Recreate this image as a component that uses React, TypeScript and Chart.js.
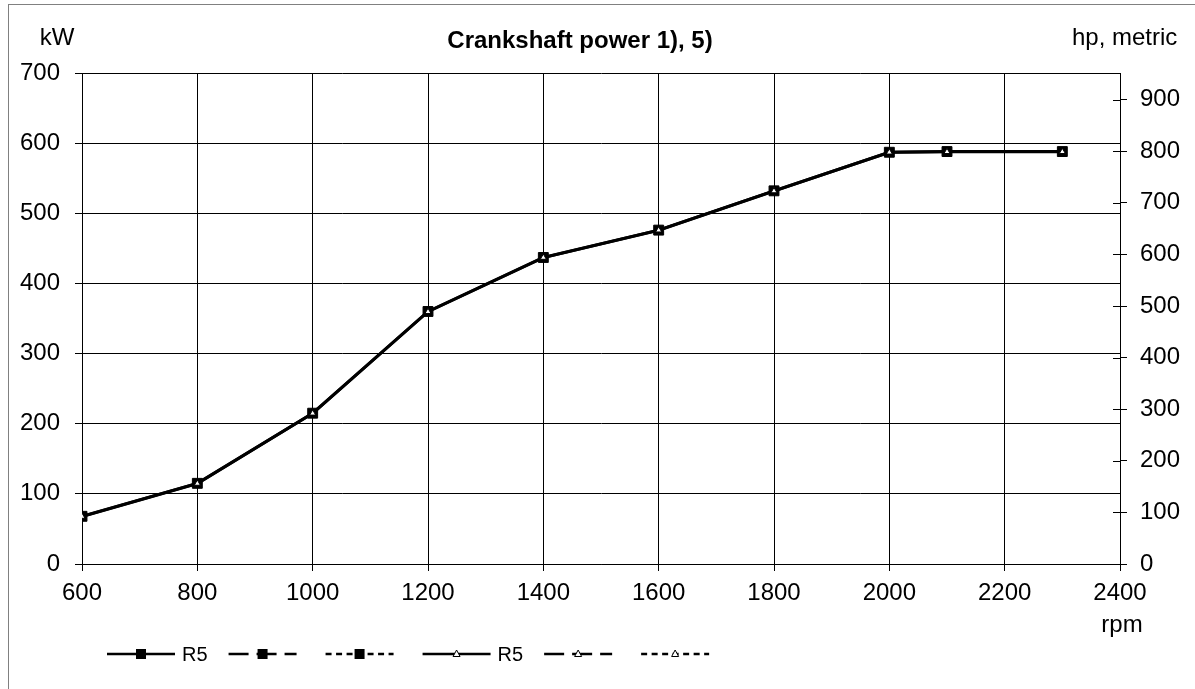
import React, { useEffect, useRef } from 'react';
import { Chart, registerables } from 'chart.js';

Chart.register(...registerables);

// ---- data ----
const rpm = [600, 800, 1000, 1200, 1400, 1600, 1800, 2000, 2100, 2300];
const powerKW = [68, 115, 215, 360, 437, 476, 532, 587, 588, 588];
const powerHP = [92, 156, 292, 489, 594, 647, 723, 798, 799, 799];
const rpmTicks = [600, 800, 1000, 1200, 1400, 1600, 1800, 2000, 2200, 2400];
const kwTicks = [0, 100, 200, 300, 400, 500, 600, 700];
const hpTicks = [0, 100, 200, 300, 400, 500, 600, 700, 800, 900];
const legendLabels = ['R5', '', '', 'R5', '', ''];
const legendStyles = ['solid', 'dashed', 'dotted', 'solid', 'dashed', 'dotted'];
const legendMarkers = ['rect', 'rect', 'rect', 'triangle', 'triangle', 'triangle'];
const titleText = 'Crankshaft power 1), 5)';
const leftUnit = 'kW';
const rightUnit = 'hp, metric';
const xUnit = 'rpm';
const KW_TO_HP = 1.35962;

const FONT = '"Liberation Sans", Arial, sans-serif';

const dashFor = (s: string): number[] =>
  s === 'dashed' ? [20, 8] : s === 'dotted' ? [6, 4.5] : [];

const overlay = {
  id: 'overlay',
  afterDraw(chart: any) {
    const ctx = chart.ctx as CanvasRenderingContext2D;
    const area = chart.chartArea;
    ctx.save();
    ctx.fillStyle = '#000';
    ctx.textBaseline = 'alphabetic';
    ctx.font = `bold 24px ${FONT}`;
    ctx.textAlign = 'center';
    ctx.fillText(titleText, 580, 48);
    ctx.font = `24px ${FONT}`;
    ctx.fillText(leftUnit, 57, 45);
    ctx.textAlign = 'left';
    ctx.fillText(rightUnit, 1072, 45);
    ctx.textAlign = 'center';
    ctx.fillText(xUnit, 1122, 632);

    // inner tick marks on the right axis
    const y2 = chart.scales.y2;
    ctx.strokeStyle = '#000';
    ctx.lineWidth = 1;
    y2.ticks.forEach((t: any) => {
      const py = Math.round(y2.getPixelForValue(t.value)) + 0.5;
      ctx.beginPath();
      ctx.moveTo(area.right - 7, py);
      ctx.lineTo(area.right, py);
      ctx.stroke();
    });

    // legend
    const ly = 654;
    let x = 107;
    const lineLen = 68;
    ctx.font = `20px ${FONT}`;
    ctx.textBaseline = 'middle';
    ctx.textAlign = 'left';
    legendLabels.forEach((label, i) => {
      ctx.setLineDash(dashFor(legendStyles[i]));
      ctx.lineWidth = 2.5;
      ctx.strokeStyle = '#000';
      ctx.beginPath();
      ctx.moveTo(x, ly);
      ctx.lineTo(x + lineLen, ly);
      ctx.stroke();
      ctx.setLineDash([]);
      const cx = x + lineLen / 2;
      if (legendMarkers[i] === 'rect') {
        ctx.fillStyle = '#000';
        ctx.fillRect(cx - 5, ly - 5, 10, 10);
      } else {
        ctx.fillStyle = '#fff';
        ctx.lineWidth = 1;
        ctx.beginPath();
        ctx.moveTo(cx, ly - 4);
        ctx.lineTo(cx + 3.5, ly + 2.5);
        ctx.lineTo(cx - 3.5, ly + 2.5);
        ctx.closePath();
        ctx.fill();
        ctx.stroke();
      }
      if (label) {
        ctx.fillStyle = '#000';
        ctx.fillText(label, x + lineLen + 7, ly + 1);
        const w = ctx.measureText(label).width;
        x += lineLen + 7 + w + 21;
      } else {
        x += lineLen + 29;
      }
    });
    ctx.restore();
  },
};

export default function App() {
  const ref = useRef<HTMLCanvasElement | null>(null);

  useEffect(() => {
    if (!ref.current) return;
    const tickFont = { family: FONT, size: 24 };
    const plain = (v: any) => String(v);
    const chart = new Chart(ref.current, {
      type: 'line',
      data: {
        datasets: [
          {
            label: 'R5',
            data: rpm.map((r, i) => ({ x: r, y: powerKW[i] })),
            yAxisID: 'y',
            borderColor: '#000',
            borderWidth: 3,
            pointStyle: 'rect',
            pointRadius: 7,
            pointBackgroundColor: '#000',
            pointBorderColor: '#000',
            pointBorderWidth: 1,
            tension: 0,
            order: 1,
          },
          {
            label: 'R5',
            data: rpm.map((r, i) => ({ x: r, y: powerHP[i] })),
            yAxisID: 'y2',
            borderColor: '#000',
            borderWidth: 3,
            pointStyle: 'triangle',
            pointRadius: 3.5,
            pointBackgroundColor: '#fff',
            pointBorderColor: '#000',
            pointBorderWidth: 1,
            tension: 0,
            order: 0,
          },
        ],
      },
      options: {
        responsive: false,
        animation: false,
        layout: { padding: { top: 73, left: 0, right: 0, bottom: 0 } },
        plugins: {
          legend: { display: false },
          title: { display: false },
          tooltip: { enabled: false },
        },
        scales: {
          x: {
            type: 'linear',
            min: 600,
            max: 2400,
            afterBuildTicks: (s: any) => {
              s.ticks = rpmTicks.map((v) => ({ value: v }));
            },
            afterFit: (s: any) => {
              s.height = 125;
            },
            ticks: {
              font: tickFont,
              color: '#000',
              padding: 8,
              maxRotation: 0,
              autoSkip: false,
              callback: plain,
            },
            grid: { color: '#000', tickLength: 7, lineWidth: 1 },
            border: { display: true, color: '#000' },
          },
          y: {
            type: 'linear',
            position: 'left',
            min: 0,
            max: 700,
            afterBuildTicks: (s: any) => {
              s.ticks = kwTicks.map((v) => ({ value: v }));
            },
            afterFit: (s: any) => {
              s.width = 82;
            },
            ticks: { font: tickFont, color: '#000', padding: 15, callback: plain },
            grid: { color: '#000', tickLength: 7, lineWidth: 1 },
            border: { display: true, color: '#000' },
          },
          y2: {
            type: 'linear',
            position: 'right',
            min: 0,
            max: 700 * KW_TO_HP,
            afterBuildTicks: (s: any) => {
              s.ticks = hpTicks.map((v) => ({ value: v }));
            },
            afterFit: (s: any) => {
              s.width = 75;
            },
            ticks: { font: tickFont, color: '#000', padding: 13, callback: plain },
            grid: { drawOnChartArea: false, color: '#000', tickLength: 7 },
            border: { display: true, color: '#000' },
          },
        },
      },
      plugins: [overlay],
    });
    return () => chart.destroy();
  }, []);

  return (
    <div style={{ position: 'absolute', left: 0, top: 0, width: 1195, height: 689, overflow: 'hidden', background: '#fff' }}>
      <div
        style={{
          position: 'absolute',
          left: 8,
          top: 4,
          width: 1300,
          height: 800,
          borderTop: '1px solid #808080',
          borderLeft: '1px solid #808080',
        }}
      />
      <canvas ref={ref} width={1195} height={689} style={{ position: 'absolute', left: 0, top: 0 }} />
    </div>
  );
}
